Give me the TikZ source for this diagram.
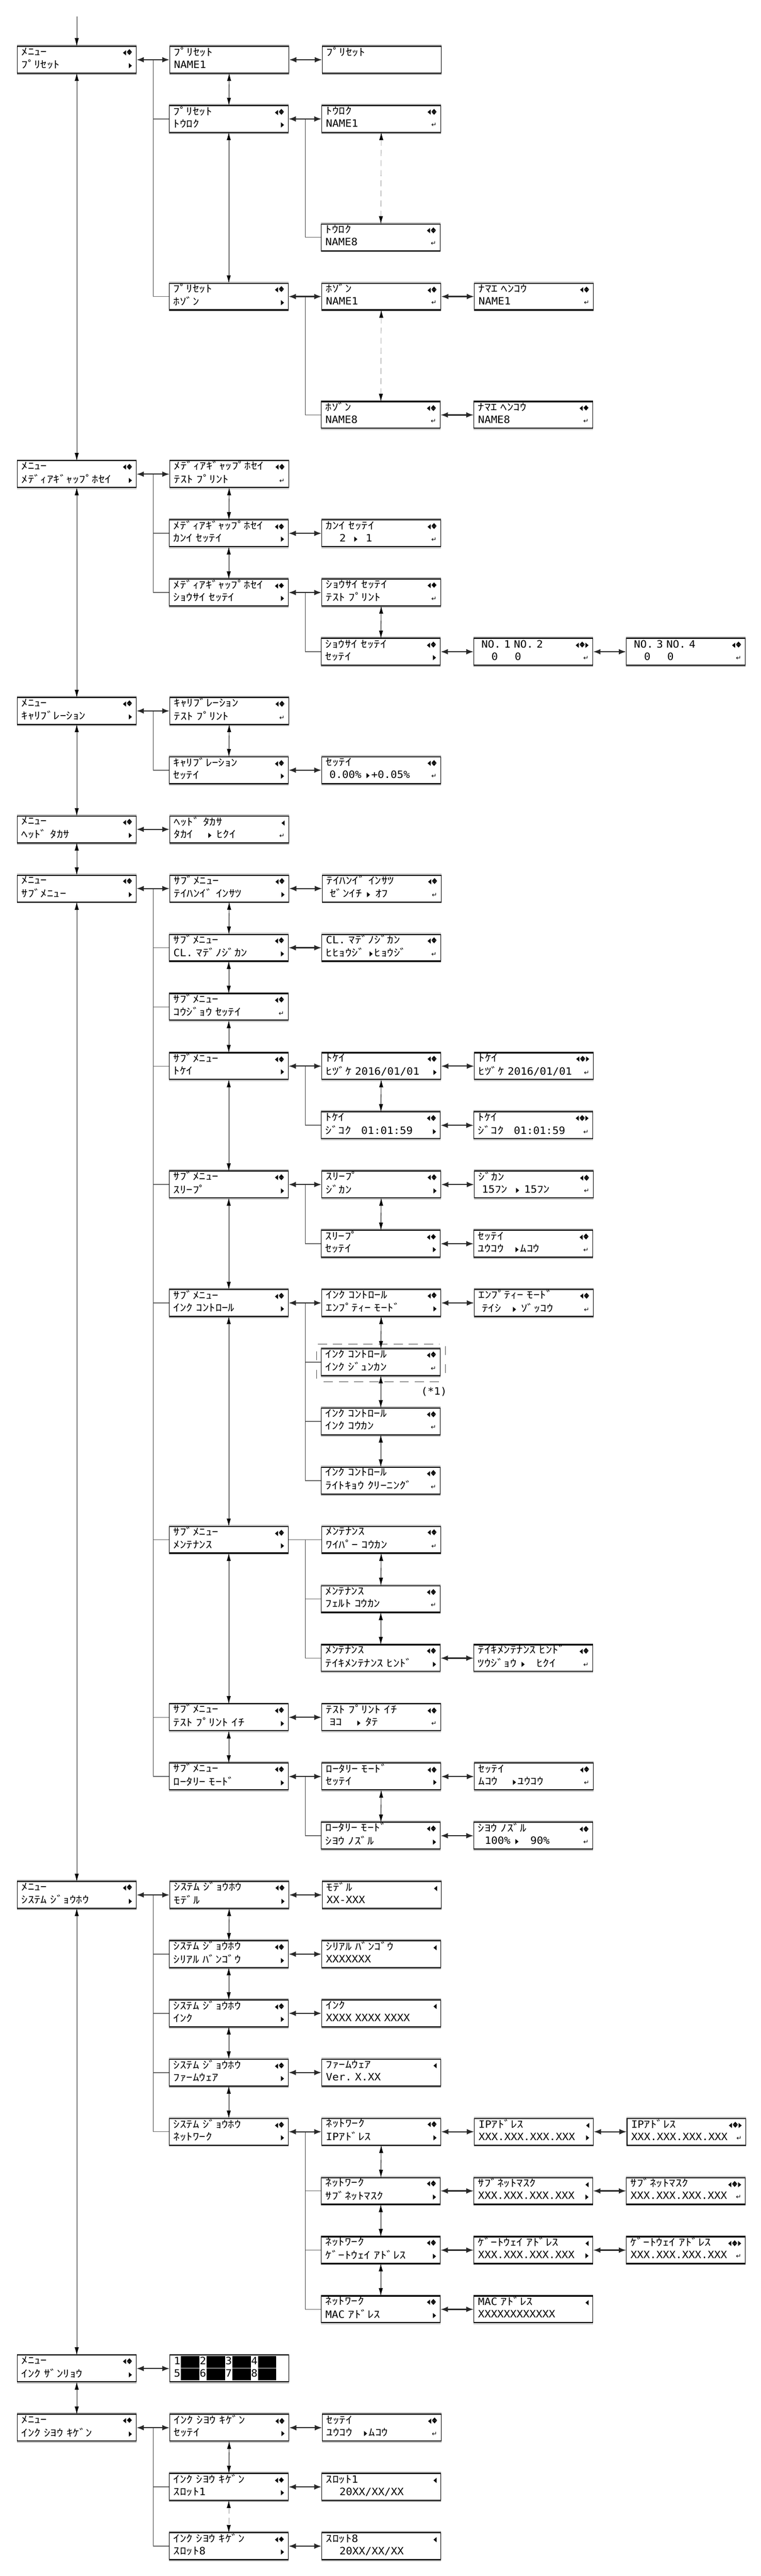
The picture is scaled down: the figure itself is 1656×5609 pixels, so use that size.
\documentclass[tikz,border=0pt]{standalone}
\usepackage{fontspec}
\usepackage{graphicx}
\newfontfamily\lcdfont[FakeStretch=1.273]{Noto Sans CJK JP}
\newfontfamily\latfont[FakeStretch=1.057]{DejaVu Sans Mono}
\newfontfamily\iconfont{DejaVu Sans}
\definecolor{lcdgray}{RGB}{150,150,150}
\definecolor{lcdline}{RGB}{40,40,40}
\usetikzlibrary{arrows.meta, positioning, calc}

\newlength{\cw}\setlength{\cw}{14pt}
\newcommand{\lcdsetup}{\lcdfont\fontsize{22}{27}\selectfont\spaceskip=\cw\relax}
\newcommand{\lcdstrut}{\rule[-9pt]{0pt}{27pt}}
\newcommand{\lcd}[4]{\makebox[241pt][l]{\lcdstrut#1\hfill#2}\\\makebox[241pt][l]{\lcdstrut#3\hfill#4}}
\newcommand{\lat}[1]{{\latfont#1}}
\newcommand{\icL}{\raisebox{1pt}{\scalebox{0.6}[1]{\iconfont\fontsize{15}{15}\selectfont ◀}}}
\newcommand{\icR}{\raisebox{1pt}{\scalebox{0.6}[1]{\iconfont\fontsize{15}{15}\selectfont ▶}}}
\newcommand{\icUD}{{\iconfont\fontsize{15}{15}\selectfont\raisebox{0.5pt}{\rlap{\raisebox{6.6pt}{\scalebox{1}[0.55]{▲}}}\scalebox{1}[0.55]{▼}}}}
\newcommand{\icN}{\icL\kern1.5pt\icUD}
\newcommand{\icNR}{\icL\kern1.5pt\icUD\kern1.5pt\icR}
\newcommand{\icE}{{\iconfont\fontsize{14}{14}\selectfont ↵}}
\newcommand{\sel}{\makebox[\cw]{\icR}}
\newcommand{\blk}{\kern1pt\rule[-7pt]{40pt}{25pt}\kern1pt}
\newcommand{\ry}[1]{101+128.9*#1}

\begin{document}
\begin{tikzpicture}[x=1pt, y=-1pt,
  node distance=72pt,
  lcd/.style={draw, line width=1.2pt, fill=white, anchor=north west,
    minimum width=259pt, minimum height=57pt, text width=241pt,
    inner xsep=9pt, inner ysep=0pt, align=left, font=\lcdsetup,
    append after command={
      ([yshift=2.4pt]\tikzlastnode.north west) edge[draw=lcdgray, line width=1.6pt] ([yshift=2.4pt]\tikzlastnode.north east)
      (\tikzlastnode.north west) edge[draw=black, line width=2.4pt] (\tikzlastnode.north east)
      (\tikzlastnode.south west) edge[draw=black, line width=2.4pt] (\tikzlastnode.south east)
      ([yshift=-2.4pt]\tikzlastnode.south west) edge[draw=lcdgray, line width=1.6pt] ([yshift=-2.4pt]\tikzlastnode.south east)}},
  harr/.style={{Latex[length=16pt,width=12pt]}-{Latex[length=16pt,width=12pt]}, line width=2.5pt, lcdline},
  varr/.style={{Latex[length=17pt,width=9pt]}-{Latex[length=17pt,width=9pt]}, line width=0.9pt},
  dvarr/.style={{Latex[length=17pt,width=9pt,color=black]}-{Latex[length=17pt,width=9pt,color=black]}, line width=0.9pt, lcdgray, dash pattern=on 13pt off 9pt},
  inarr/.style={-{Latex[length=18pt,width=9pt]}, line width=0.9pt},
  trunk/.style={line width=0.9pt, black!75},
  stub/.style={line width=1.8pt, black!60},
  brk/.style={line width=2.5pt, lcdgray, dash pattern=on 20pt off 13pt},
  brkv/.style={line width=0.8pt, black!70, dash pattern=on 19pt off 21pt},
  note/.style={font=\lcdsetup, inner sep=0pt}
]
  \useasboundingbox (0,0) rectangle (1656,5609);

  % preset
  \node[lcd] (a0) at (37,{\ry{0}}) {\lcd{ﾒﾆｭｰ}{\icN}{ﾌﾟﾘｾｯﾄ}{\icR}};
  \node[lcd, right=of a0] (b0) {\lcd{ﾌﾟﾘｾｯﾄ}{}{\lat{NAME1}}{}};
  \node[lcd, right=of b0] (c0) {\lcd{ﾌﾟﾘｾｯﾄ}{}{}{}};
  \node[lcd] (b1) at (368,{\ry{1}}) {\lcd{ﾌﾟﾘｾｯﾄ}{\icN}{ﾄｳﾛｸ}{\icR}};
  \node[lcd, right=of b1] (c1) {\lcd{ﾄｳﾛｸ}{\icN}{\lat{NAME1}}{\icE}};
  \node[lcd] (c3) at (699,{\ry{3}}) {\lcd{ﾄｳﾛｸ}{\icN}{\lat{NAME8}}{\icE}};
  \node[lcd] (b4) at (368,{\ry{4}}) {\lcd{ﾌﾟﾘｾｯﾄ}{\icN}{ﾎｿﾞﾝ}{\icR}};
  \node[lcd, right=of b4] (c4) {\lcd{ﾎｿﾞﾝ}{\icN}{\lat{NAME1}}{\icE}};
  \node[lcd, right=of c4] (d4) {\lcd{ﾅﾏｴ~ﾍﾝｺｳ}{\icN}{\lat{NAME1}}{\icE}};
  \node[lcd] (c6) at (699,{\ry{6}}) {\lcd{ﾎｿﾞﾝ}{\icN}{\lat{NAME8}}{\icE}};
  \node[lcd, right=of c6] (d6) {\lcd{ﾅﾏｴ~ﾍﾝｺｳ}{\icN}{\lat{NAME8}}{\icE}};

  % media gap
  \node[lcd] (a7) at (37,{\ry{7}}) {\lcd{ﾒﾆｭｰ}{\icN}{ﾒﾃﾞｨｱｷﾞｬｯﾌﾟﾎｾｲ}{\icR}};
  \node[lcd, right=of a7] (b7) {\lcd{ﾒﾃﾞｨｱｷﾞｬｯﾌﾟﾎｾｲ}{\icN}{ﾃｽﾄ~ﾌﾟﾘﾝﾄ}{\icE}};
  \node[lcd] (b8) at (368,{\ry{8}}) {\lcd{ﾒﾃﾞｨｱｷﾞｬｯﾌﾟﾎｾｲ}{\icN}{ｶﾝｲ~ｾｯﾃｲ}{\icR}};
  \node[lcd, right=of b8] (c8) {\lcd{ｶﾝｲ~ｾｯﾃｲ}{\icN}{~~~~\lat{2}~~\sel~~\lat{1}}{\icE}};
  \node[lcd] (b9) at (368,{\ry{9}}) {\lcd{ﾒﾃﾞｨｱｷﾞｬｯﾌﾟﾎｾｲ}{\icN}{ｼｮｳｻｲ~ｾｯﾃｲ}{\icR}};
  \node[lcd, right=of b9] (c9) {\lcd{ｼｮｳｻｲ~ｾｯﾃｲ}{\icN}{ﾃｽﾄ~ﾌﾟﾘﾝﾄ}{\icE}};
  \node[lcd] (c10) at (699,{\ry{10}}) {\lcd{ｼｮｳｻｲ~ｾｯﾃｲ}{\icN}{ｾｯﾃｲ}{\icR}};
  \node[lcd, right=of c10] (d10) {\lcd{\lat{~NO.~1~NO.~2}}{\icNR}{\lat{~~~~0~~~~~0}}{\icE}};
  \node[lcd, right=of d10] (e10) {\lcd{\lat{~NO.~3~NO.~4}}{\icN}{\lat{~~~~0~~~~~0}}{\icE}};

  % calibration, head
  \node[lcd] (a11) at (37,{\ry{11}}) {\lcd{ﾒﾆｭｰ}{\icN}{ｷｬﾘﾌﾞﾚｰｼｮﾝ}{\icR}};
  \node[lcd, right=of a11] (b11) {\lcd{ｷｬﾘﾌﾞﾚｰｼｮﾝ}{\icN}{ﾃｽﾄ~ﾌﾟﾘﾝﾄ}{\icE}};
  \node[lcd] (b12) at (368,{\ry{12}}) {\lcd{ｷｬﾘﾌﾞﾚｰｼｮﾝ}{\icN}{ｾｯﾃｲ}{\icR}};
  \node[lcd, right=of b12] (c12) {\lcd{ｾｯﾃｲ}{\icN}{\lat{~0.00\%~}\sel\lat{+0.05\%}}{\icE}};
  \node[lcd] (a13) at (37,{\ry{13}}) {\lcd{ﾒﾆｭｰ}{\icN}{ﾍｯﾄﾞ~ﾀｶｻ}{\icR}};
  \node[lcd, right=of a13] (b13) {\lcd{ﾍｯﾄﾞ~ﾀｶｻ}{\icL}{ﾀｶｲ~~~~\sel~ﾋｸｲ}{\icE}};

  % submenu
  \node[lcd] (a14) at (37,{\ry{14}}) {\lcd{ﾒﾆｭｰ}{\icN}{ｻﾌﾞﾒﾆｭｰ}{\icR}};
  \node[lcd, right=of a14] (b14) {\lcd{ｻﾌﾞﾒﾆｭｰ}{\icN}{ﾃｲﾊﾝｲﾞ~ｲﾝｻﾂ}{\icR}};
  \node[lcd, right=of b14] (c14) {\lcd{ﾃｲﾊﾝｲﾞ~ｲﾝｻﾂ}{\icN}{~ｾﾞﾝｲﾁ~\sel~ｵﾌ}{\icE}};
  \node[lcd] (b15) at (368,{\ry{15}}) {\lcd{ｻﾌﾞﾒﾆｭｰ}{\icN}{\lat{CL.}~ﾏﾃﾞﾉｼﾞｶﾝ}{\icR}};
  \node[lcd, right=of b15] (c15) {\lcd{\lat{CL.}~ﾏﾃﾞﾉｼﾞｶﾝ}{\icN}{ﾋﾋｮｳｼﾞ~\sel{}ﾋｮｳｼﾞ}{\icE}};
  \node[lcd] (b16) at (368,{\ry{16}}) {\lcd{ｻﾌﾞﾒﾆｭｰ}{\icN}{ｺｳｼﾞｮｳ~ｾｯﾃｲ}{\icE}};
  \node[lcd] (b17) at (368,{\ry{17}}) {\lcd{ｻﾌﾞﾒﾆｭｰ}{\icN}{ﾄｹｲ}{\icR}};
  \node[lcd, right=of b17] (c17) {\lcd{ﾄｹｲ}{\icN}{ﾋﾂﾞｹ~\lat{2016/01/01}}{\icR}};
  \node[lcd, right=of c17] (d17) {\lcd{ﾄｹｲ}{\icNR}{ﾋﾂﾞｹ~\lat{2016/01/01}}{\icE}};
  \node[lcd] (c18) at (699,{\ry{18}}) {\lcd{ﾄｹｲ}{\icN}{ｼﾞｺｸ~~~\lat{01:01:59}}{\icR}};
  \node[lcd, right=of c18] (d18) {\lcd{ﾄｹｲ}{\icNR}{ｼﾞｺｸ~~~\lat{01:01:59}}{\icE}};
  \node[lcd] (b19) at (368,{\ry{19}}) {\lcd{ｻﾌﾞﾒﾆｭｰ}{\icN}{ｽﾘｰﾌﾟ}{\icR}};
  \node[lcd, right=of b19] (c19) {\lcd{ｽﾘｰﾌﾟ}{\icN}{ｼﾞｶﾝ}{\icR}};
  \node[lcd, right=of c19] (d19) {\lcd{ｼﾞｶﾝ}{\icN}{~\lat{15}ﾌﾝ~~\sel~\lat{15}ﾌﾝ}{\icE}};
  \node[lcd] (c20) at (699,{\ry{20}}) {\lcd{ｽﾘｰﾌﾟ}{\icN}{ｾｯﾃｲ}{\icR}};
  \node[lcd, right=of c20] (d20) {\lcd{ｾｯﾃｲ}{\icN}{ﾕｳｺｳ~~~\sel{}ﾑｺｳ}{\icE}};
  \node[lcd] (b21) at (368,{\ry{21}}) {\lcd{ｻﾌﾞﾒﾆｭｰ}{\icN}{ｲﾝｸ~ｺﾝﾄﾛｰﾙ}{\icR}};
  \node[lcd, right=of b21] (c21) {\lcd{ｲﾝｸ~ｺﾝﾄﾛｰﾙ}{\icN}{ｴﾝﾌﾟﾃｨｰ~ﾓｰﾄﾞ}{\icR}};
  \node[lcd, right=of c21] (d21) {\lcd{ｴﾝﾌﾟﾃｨｰ~ﾓｰﾄﾞ}{\icN}{~ﾃｲｼ~~~\sel~ｿﾞｯｺｳ}{\icE}};
  \node[lcd] (c22) at (699,{\ry{22}}) {\lcd{ｲﾝｸ~ｺﾝﾄﾛｰﾙ}{\icN}{ｲﾝｸ~ｼﾞｭﾝｶﾝ}{\icE}};
  \node[lcd] (c23) at (699,{\ry{23}}) {\lcd{ｲﾝｸ~ｺﾝﾄﾛｰﾙ}{\icN}{ｲﾝｸ~ｺｳｶﾝ}{\icE}};
  \node[lcd] (c24) at (699,{\ry{24}}) {\lcd{ｲﾝｸ~ｺﾝﾄﾛｰﾙ}{\icN}{ﾗｲﾄｷｮｳ~ｸﾘｰﾆﾝｸﾞ}{\icE}};
  \node[lcd] (b25) at (368,{\ry{25}}) {\lcd{ｻﾌﾞﾒﾆｭｰ}{\icN}{ﾒﾝﾃﾅﾝｽ}{\icR}};
  \node[lcd, right=of b25] (c25) {\lcd{ﾒﾝﾃﾅﾝｽ}{\icN}{ﾜｲﾊﾟｰ~ｺｳｶﾝ}{\icE}};
  \node[lcd] (c26) at (699,{\ry{26}}) {\lcd{ﾒﾝﾃﾅﾝｽ}{\icN}{ﾌｪﾙﾄ~ｺｳｶﾝ}{\icE}};
  \node[lcd] (c27) at (699,{\ry{27}}) {\lcd{ﾒﾝﾃﾅﾝｽ}{\icN}{ﾃｲｷﾒﾝﾃﾅﾝｽ~ﾋﾝﾄﾞ}{\icR}};
  \node[lcd, right=of c27] (d27) {\lcd{ﾃｲｷﾒﾝﾃﾅﾝｽ~ﾋﾝﾄﾞ}{\icN}{ﾂｳｼﾞｮｳ~\sel~~~ﾋｸｲ}{\icE}};
  \node[lcd] (b28) at (368,{\ry{28}}) {\lcd{ｻﾌﾞﾒﾆｭｰ}{\icN}{ﾃｽﾄ~ﾌﾟﾘﾝﾄ~ｲﾁ}{\icR}};
  \node[lcd, right=of b28] (c28) {\lcd{ﾃｽﾄ~ﾌﾟﾘﾝﾄ~ｲﾁ}{\icN}{~ﾖｺ~~~~\sel~ﾀﾃ}{\icE}};
  \node[lcd] (b29) at (368,{\ry{29}}) {\lcd{ｻﾌﾞﾒﾆｭｰ}{\icN}{ﾛｰﾀﾘｰ~ﾓｰﾄﾞ}{\icR}};
  \node[lcd, right=of b29] (c29) {\lcd{ﾛｰﾀﾘｰ~ﾓｰﾄﾞ}{\icN}{ｾｯﾃｲ}{\icR}};
  \node[lcd, right=of c29] (d29) {\lcd{ｾｯﾃｲ}{\icN}{ﾑｺｳ~~~~\sel{}ﾕｳｺｳ}{\icE}};
  \node[lcd] (c30) at (699,{\ry{30}}) {\lcd{ﾛｰﾀﾘｰ~ﾓｰﾄﾞ}{\icN}{ｼﾖｳ~ﾉｽﾞﾙ}{\icR}};
  \node[lcd, right=of c30] (d30) {\lcd{ｼﾖｳ~ﾉｽﾞﾙ}{\icN}{\lat{~~100\%~}\sel\lat{~~~90\%}}{\icE}};

  % system info
  \node[lcd] (a31) at (37,{\ry{31}}) {\lcd{ﾒﾆｭｰ}{\icN}{ｼｽﾃﾑ~ｼﾞｮｳﾎｳ}{\icR}};
  \node[lcd, right=of a31] (b31) {\lcd{ｼｽﾃﾑ~ｼﾞｮｳﾎｳ}{\icN}{ﾓﾃﾞﾙ}{\icR}};
  \node[lcd, right=of b31] (c31) {\lcd{ﾓﾃﾞﾙ}{\icL}{\lat{XX-XXX}}{}};
  \node[lcd] (b32) at (368,{\ry{32}}) {\lcd{ｼｽﾃﾑ~ｼﾞｮｳﾎｳ}{\icN}{ｼﾘｱﾙ~ﾊﾞﾝｺﾞｳ}{\icR}};
  \node[lcd, right=of b32] (c32) {\lcd{ｼﾘｱﾙ~ﾊﾞﾝｺﾞｳ}{\icL}{\lat{XXXXXXX}}{}};
  \node[lcd] (b33) at (368,{\ry{33}}) {\lcd{ｼｽﾃﾑ~ｼﾞｮｳﾎｳ}{\icN}{ｲﾝｸ}{\icR}};
  \node[lcd, right=of b33] (c33) {\lcd{ｲﾝｸ}{\icL}{\lat{XXXX~XXXX~XXXX}}{}};
  \node[lcd] (b34) at (368,{\ry{34}}) {\lcd{ｼｽﾃﾑ~ｼﾞｮｳﾎｳ}{\icN}{ﾌｧｰﾑｳｪｱ}{\icR}};
  \node[lcd, right=of b34] (c34) {\lcd{ﾌｧｰﾑｳｪｱ}{\icL}{\lat{Ver.~X.XX}}{}};
  \node[lcd] (b35) at (368,{\ry{35}}) {\lcd{ｼｽﾃﾑ~ｼﾞｮｳﾎｳ}{\icN}{ﾈｯﾄﾜｰｸ}{\icR}};
  \node[lcd, right=of b35] (c35) {\lcd{ﾈｯﾄﾜｰｸ}{\icN}{\lat{IP}ｱﾄﾞﾚｽ}{\icR}};
  \node[lcd, right=of c35] (d35) {\lcd{\lat{IP}ｱﾄﾞﾚｽ}{\icL}{\lat{XXX.XXX.XXX.XXX}}{\icR}};
  \node[lcd, right=of d35] (e35) {\lcd{\lat{IP}ｱﾄﾞﾚｽ}{\icNR}{\lat{XXX.XXX.XXX.XXX}}{\icE}};
  \node[lcd] (c36) at (699,{\ry{36}}) {\lcd{ﾈｯﾄﾜｰｸ}{\icN}{ｻﾌﾞﾈｯﾄﾏｽｸ}{\icR}};
  \node[lcd, right=of c36] (d36) {\lcd{ｻﾌﾞﾈｯﾄﾏｽｸ}{\icL}{\lat{XXX.XXX.XXX.XXX}}{\icR}};
  \node[lcd, right=of d36] (e36) {\lcd{ｻﾌﾞﾈｯﾄﾏｽｸ}{\icNR}{\lat{XXX.XXX.XXX.XXX}}{\icE}};
  \node[lcd] (c37) at (699,{\ry{37}}) {\lcd{ﾈｯﾄﾜｰｸ}{\icN}{ｹﾞｰﾄｳｪｲ~ｱﾄﾞﾚｽ}{\icR}};
  \node[lcd, right=of c37] (d37) {\lcd{ｹﾞｰﾄｳｪｲ~ｱﾄﾞﾚｽ}{\icL}{\lat{XXX.XXX.XXX.XXX}}{\icR}};
  \node[lcd, right=of d37] (e37) {\lcd{ｹﾞｰﾄｳｪｲ~ｱﾄﾞﾚｽ}{\icNR}{\lat{XXX.XXX.XXX.XXX}}{\icE}};
  \node[lcd] (c38) at (699,{\ry{38}}) {\lcd{ﾈｯﾄﾜｰｸ}{\icN}{\lat{MAC}~ｱﾄﾞﾚｽ}{\icR}};
  \node[lcd, right=of c38] (d38) {\lcd{\lat{MAC}~ｱﾄﾞﾚｽ}{\icL}{\lat{XXXXXXXXXXXX}}{}};

  % ink
  \node[lcd] (a39) at (37,{\ry{39}}) {\lcd{ﾒﾆｭｰ}{\icN}{ｲﾝｸ~ｻﾞﾝﾘｮｳ}{\icR}};
  \node[lcd, right=of a39] (b39) {\lcd{\lat{1}\blk\lat{2}\blk\lat{3}\blk\lat{4}\blk}{}{\lat{5}\blk\lat{6}\blk\lat{7}\blk\lat{8}\blk}{}};
  \node[lcd] (a40) at (37,{\ry{40}}) {\lcd{ﾒﾆｭｰ}{\icN}{ｲﾝｸ~ｼﾖｳ~ｷｹﾞﾝ}{\icR}};
  \node[lcd, right=of a40] (b40) {\lcd{ｲﾝｸ~ｼﾖｳ~ｷｹﾞﾝ}{\icN}{ｾｯﾃｲ}{\icR}};
  \node[lcd, right=of b40] (c40) {\lcd{ｾｯﾃｲ}{\icN}{ﾕｳｺｳ~~~\sel{}ﾑｺｳ}{\icE}};
  \node[lcd] (b41) at (368,{\ry{41}}) {\lcd{ｲﾝｸ~ｼﾖｳ~ｷｹﾞﾝ}{\icN}{ｽﾛｯﾄ\lat{1}}{\icR}};
  \node[lcd, right=of b41] (c41) {\lcd{ｽﾛｯﾄ\lat{1}}{\icL}{~~~~\lat{20XX/XX/XX}}{}};
  \node[lcd] (b42) at (368,{\ry{42}}) {\lcd{ｲﾝｸ~ｼﾖｳ~ｷｹﾞﾝ}{\icN}{ｽﾛｯﾄ\lat{8}}{\icR}};
  \node[lcd, right=of b42] (c42) {\lcd{ｽﾛｯﾄ\lat{8}}{\icL}{~~~~\lat{20XX/XX/XX}}{}};

  % (*1) bracket
  \node[note] (n1) at (945,3030) {\lat{(*1)}};
  \draw[brk] ([shift={(-7pt,10pt)}]c22.north west) -- ([shift={(-2pt,10pt)}]c22.north east);
  \draw[brk] ([shift={(6pt,-14pt)}]c22.south west) -- ([shift={(5pt,-14pt)}]c22.south east);
  \draw[brkv] ([shift={(-10pt,-6pt)}]c22.north west) -- ([shift={(-10pt,-8pt)}]c22.south west);
  \draw[brkv] ([shift={(10pt,6pt)}]c22.north east) -- ([shift={(10pt,4pt)}]c22.south east);

  % trees
  \foreach \p/\q/\kids in {a0/b0/{b1,b4}, b1/c1/{c3}, b4/c4/{c6}, a7/b7/{b8,b9}, b9/c9/{c10},
      a11/b11/{b12}, a14/b14/{b15,b16,b17,b19,b21,b25,b28,b29}, b17/c17/{c18}, b19/c19/{c20},
      b21/c21/{c22,c23,c24}, b25/c25/{c26,c27}, b29/c29/{c30}, a31/b31/{b32,b33,b34,b35},
      b35/c35/{c36,c37,c38}, a40/b40/{b41,b42}} {
    \coordinate (j) at ($(\p.east)!0.5!(\q.west)$);
    \foreach \k in \kids {
      \draw[trunk] (j) -- (j |- \k.west);
      \draw[stub] (j |- \k.west) -- (\k.west);
    }
  }

  % connectors
  \coordinate[above=65pt of a0] (entry);
  \draw[inarr] (entry) -- (a0);
  \foreach \p/\q in {a0/b0, b0/c0, b1/c1, b4/c4, c4/d4, c6/d6, a7/b7, b8/c8, b9/c9, c10/d10,
      d10/e10, a11/b11, b12/c12, a13/b13, a14/b14, b14/c14, b15/c15, b17/c17, c17/d17, c18/d18,
      b19/c19, c19/d19, c20/d20, b21/c21, c21/d21, c27/d27, b28/c28, b29/c29, c29/d29, c30/d30,
      a31/b31, b31/c31, b32/c32, b33/c33, b34/c34, b35/c35, c35/d35, d35/e35, c36/d36, d36/e36,
      c37/d37, d37/e37, c38/d38, a39/b39, a40/b40, b40/c40, b41/c41, b42/c42}
    \draw[harr] (\p) -- (\q);
  \draw[stub] (b25) -- (c25);
  \foreach \p/\q in {a0/a7, a7/a11, a11/a13, a13/a14, a14/a31, a31/a39, a39/a40,
      b0/b1, b1/b4, b7/b8, b8/b9, b11/b12, b14/b15, b15/b16, b16/b17, b17/b19, b19/b21,
      b21/b25, b25/b28, b28/b29, b31/b32, b32/b33, b33/b34, b34/b35, b40/b41,
      c9/c10, c17/c18, c19/c20, c21/c22, c22/c23, c23/c24, c25/c26, c26/c27, c29/c30,
      c35/c36, c36/c37, c37/c38}
    \draw[varr] (\p) -- (\q);
  \foreach \p/\q in {c1/c3, c4/c6, b41/b42}
    \draw[dvarr] (\p) -- (\q);
\end{tikzpicture}
\end{document}
